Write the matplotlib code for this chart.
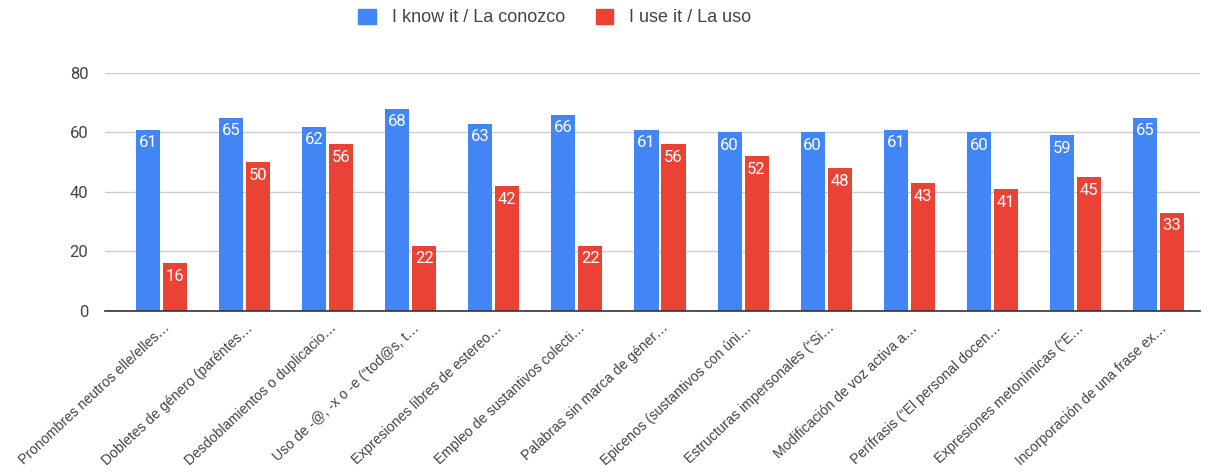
import numpy as np
import matplotlib.pyplot as plt
from matplotlib.patches import Patch

plt.rcParams['font.family'] = ['Roboto', 'DejaVu Sans']

categories = [
    "Pronombres neutros elle/elles…",
    "Dobletes de género (paréntes…",
    "Desdoblamientos o duplicacio…",
    "Uso de -@, -x o -e (“tod@s, t…",
    "Expresiones libres de estereo…",
    "Empleo de sustantivos colecti…",
    "Palabras sin marca de géner…",
    "Epicenos (sustantivos con úni…",
    "Estructuras impersonales (“Si…",
    "Modificación de voz activa a…",
    "Perífrasis (“El personal docen…",
    "Expresiones metonímicas (“E…",
    "Incorporación de una frase ex…",
]
know = [61, 65, 62, 68, 63, 66, 61, 60, 60, 61, 60, 59, 65]
use = [16, 50, 56, 22, 42, 22, 56, 52, 48, 43, 41, 45, 33]

blue = '#4285F4'
red = '#EA4335'
text_col = '#444444'

fig = plt.figure(figsize=(12.14, 4.73), dpi=100)
ax = fig.add_axes([0.0865, 0.3425, 0.902, 0.5032])

x = np.arange(len(categories))
w = 0.29
off = 0.1625

b1 = ax.bar(x - off, know, w, color=blue, zorder=3)
b2 = ax.bar(x + off, use, w, color=red, zorder=3)

for bars in (b1, b2):
    for rect in bars:
        h = rect.get_height()
        ax.text(rect.get_x() + rect.get_width() / 2, h - 1.9, str(int(h)),
                ha='center', va='top', color='white', fontsize=12, zorder=4)

ax.set_xlim(-0.68, 12.5)
ax.set_ylim(0, 80)
ax.set_yticks([0, 20, 40, 60, 80])
ax.tick_params(axis='y', length=0, labelsize=12, labelcolor=text_col, pad=12)
ax.tick_params(axis='x', length=0, pad=7)
ax.set_xticks(x + 0.02)
ax.set_xticklabels(categories, rotation=43, ha='right', rotation_mode='anchor',
                   fontsize=10.1, color=text_col)
for lab in ax.get_xticklabels():
    lab.set_family(['Liberation Sans', 'DejaVu Sans'])

ax.grid(axis='y', color='#cccccc', linewidth=1, zorder=0)
for s in ['top', 'right', 'left']:
    ax.spines[s].set_visible(False)
ax.spines['bottom'].set_color('#333333')
ax.spines['bottom'].set_linewidth(1.2)
ax.spines['bottom'].set_zorder(5)

handles = [Patch(color=blue, label='I know it / La conozco'),
           Patch(color=red, label='I use it / La uso')]
leg = fig.legend(handles=handles, loc='center', bbox_to_anchor=(0.457, 0.963), ncol=2,
                 frameon=False, fontsize=13, handlelength=0.95, handleheight=0.95,
                 columnspacing=1.7, handletextpad=0.9, labelcolor=text_col)
for t in leg.get_texts():
    t.set_family(['Liberation Sans', 'DejaVu Sans'])

fig.savefig('out.png', dpi=100)
